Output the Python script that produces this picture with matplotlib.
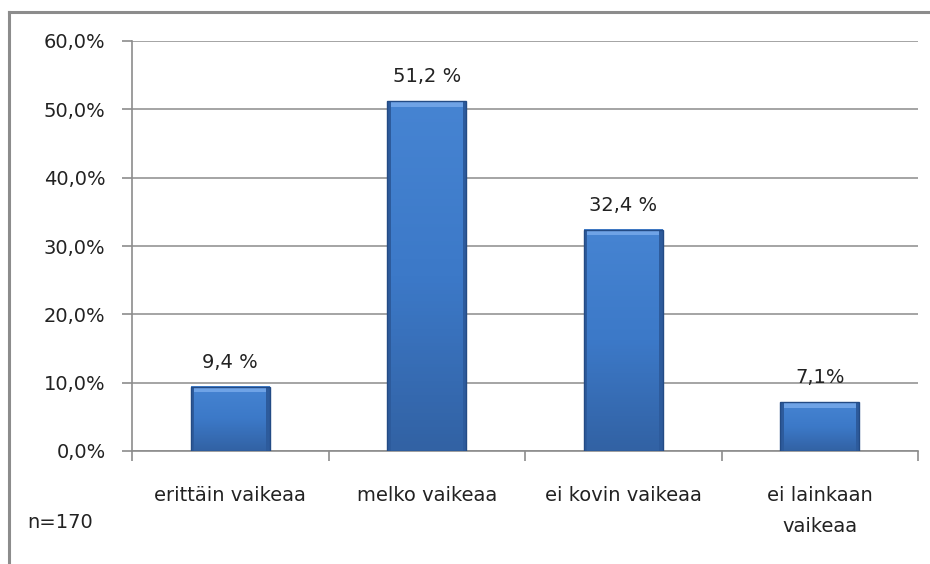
import numpy as np
import matplotlib.pyplot as plt
import matplotlib.colors as mcolors
from matplotlib.lines import Line2D
from matplotlib.patches import Rectangle

categories = ["erittäin vaikeaa", "melko vaikeaa", "ei kovin vaikeaa", "ei lainkaan\nvaikeaa"]
values = [9.4, 51.2, 32.4, 7.1]
value_labels = ["9,4 %", "51,2 %", "32,4 %", "7,1%"]
y_ticks = [0, 10, 20, 30, 40, 50, 60]
n_text = "n=170"

W, H = 930, 564
fig = plt.figure(figsize=(W / 100, H / 100), dpi=100)
ax = fig.add_axes([132 / W, 1 - 451 / H, (918 - 132) / W, (451 - 41) / H])

grey = "#8c8c8c"
txt = "#222222"
fs = 14
bw = 0.40
x = np.arange(len(values))

# bars drawn with bar() for the geometry, then shaded to imitate the bevelled look
bars = ax.bar(x, values, width=bw, color="none", edgecolor="#234b85", linewidth=1.0, zorder=5)
grad_cmap = mcolors.LinearSegmentedColormap.from_list("bar", ["#3262a4", "#3c79c8", "#4684d2"])
for b in bars:
    x0, w, h = b.get_x(), b.get_width(), b.get_height()
    g = np.linspace(0, 1, 100).reshape(-1, 1)
    ax.imshow(g, extent=[x0, x0 + w, 0, h], cmap=grad_cmap, aspect="auto",
              origin="lower", zorder=3)
    # darker side bevels and lighter top bevel
    ax.add_patch(Rectangle((x0, 0), 0.018, h, facecolor="#2d5b9c", edgecolor="none", zorder=4))
    ax.add_patch(Rectangle((x0 + w - 0.018, 0), 0.018, h, facecolor="#2d5b9c", edgecolor="none", zorder=4))
    ax.add_patch(Rectangle((x0 + 0.018, h - 0.8), w - 0.036, 0.7, facecolor="#6fa3e6",
                           edgecolor="none", zorder=4))
ax.set_aspect("auto")

for xi, v, lab in zip(x, values, value_labels):
    ax.text(xi, v + 2.2, lab, ha="center", va="bottom", fontsize=fs, color=txt)

ax.set_xlim(-0.5, len(values) - 0.5)
ax.set_ylim(0, 60)
ax.set_yticks(y_ticks)
ax.set_yticklabels([f"{t},0%" for t in y_ticks], fontsize=fs, color=txt)
ax.set_xticks(x)
ax.set_xticklabels(categories, fontsize=fs, color=txt, linespacing=1.8)
ax.set_xticks(np.arange(len(values) + 1) - 0.5, minor=True)
ax.tick_params(axis="x", which="major", length=0, pad=25)
ax.tick_params(axis="x", which="minor", length=7, color=grey, width=1.2)
ax.tick_params(axis="y", length=7, color=grey, width=1.2, pad=12)

ax.yaxis.grid(True, color=grey, lw=1.1, zorder=0)
ax.set_axisbelow(True)
for s in ["top", "right"]:
    ax.spines[s].set_visible(False)
for s in ["left", "bottom"]:
    ax.spines[s].set_color(grey)
    ax.spines[s].set_linewidth(1.2)

fig.text(60 / W, 1 - 523 / H, n_text, ha="center", va="center", fontsize=fs, color=txt)

# outer chart frame
fig.add_artist(Line2D([9 / W, 9 / W], [0, 1 - 12 / H], color=grey, lw=2.2, transform=fig.transFigure))
fig.add_artist(Line2D([9 / W, 1], [1 - 12 / H, 1 - 12 / H], color=grey, lw=2.2, transform=fig.transFigure))

fig.savefig("out.png", dpi=100)
